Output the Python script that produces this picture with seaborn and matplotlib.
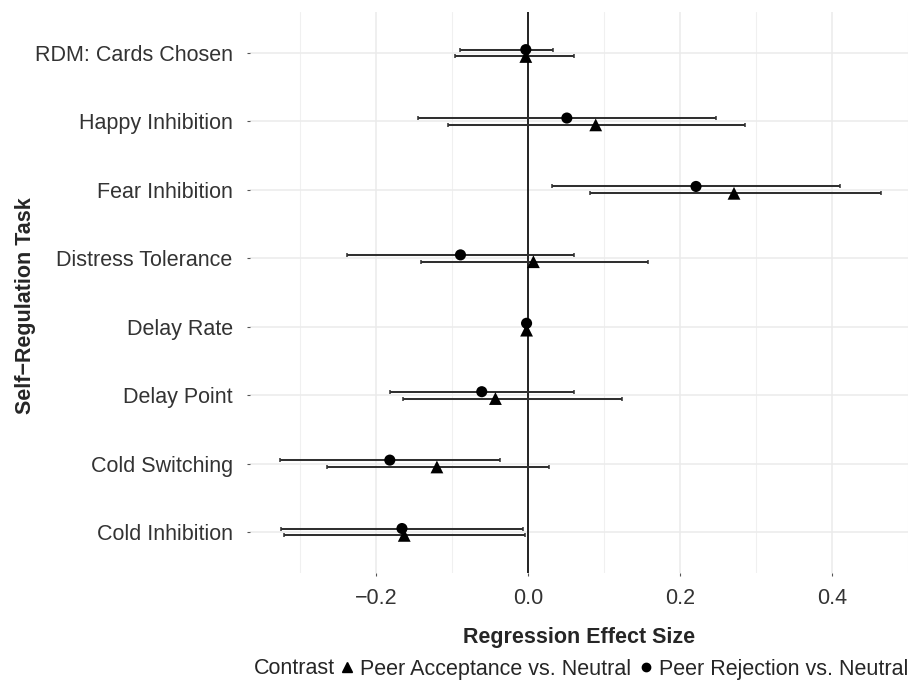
import pandas as pd
import matplotlib
matplotlib.use("Agg")
import matplotlib.pyplot as plt
import numpy as np
import seaborn as sns
from matplotlib.lines import Line2D

tasks = ["RDM: Cards Chosen", "Happy Inhibition", "Fear Inhibition", "Distress Tolerance",
         "Delay Rate", "Delay Point", "Cold Switching", "Cold Inhibition"]

# Peer Acceptance vs. Neutral (triangles)
acc_est = [-0.003, 0.089, 0.271, 0.007, -0.002, -0.043, -0.120, -0.163]
acc_lo = [-0.096, -0.105, 0.082, -0.141, -0.004, -0.164, -0.265, -0.321]
acc_hi = [0.061, 0.285, 0.465, 0.158, 0.000, 0.123, 0.028, -0.004]

# Peer Rejection vs. Neutral (circles)
rej_est = [-0.003, 0.051, 0.221, -0.089, -0.002, -0.061, -0.182, -0.166]
rej_lo = [-0.090, -0.145, 0.031, -0.238, -0.004, -0.182, -0.326, -0.325]
rej_hi = [0.033, 0.247, 0.411, 0.060, 0.000, 0.060, -0.037, -0.007]

contrasts = ["Peer Acceptance vs. Neutral", "Peer Rejection vs. Neutral"]

rows = []
for i, t in enumerate(tasks):
    rows.append(dict(task=t, contrast=contrasts[0], est=acc_est[i], lo=acc_lo[i], hi=acc_hi[i],
                     y=len(tasks) - 1 - i - 0.05))
    rows.append(dict(task=t, contrast=contrasts[1], est=rej_est[i], lo=rej_lo[i], hi=rej_hi[i],
                     y=len(tasks) - 1 - i + 0.05))
df = pd.DataFrame(rows)

sns.set_theme(style="whitegrid")
plt.rcParams['font.family'] = ['Liberation Sans', 'DejaVu Sans']
fs = 15.5

fig = plt.figure(figsize=(9.1, 6.84), dpi=100)
ax = fig.add_axes([250 / 910, 1 - 573 / 684, 658 / 910, 561 / 684])

ax.axvline(0, color="black", lw=1.2, zorder=2)

for c in contrasts:
    d = df[df.contrast == c]
    ax.errorbar(d.est, d.y, xerr=[d.est - d.lo, d.hi - d.est], fmt="none",
                ecolor="#303030", elinewidth=1.45, capsize=1.6, capthick=1.1, zorder=3)

sns.scatterplot(data=df, x="est", y="y", style="contrast", size="contrast",
                markers={contrasts[0]: "^", contrasts[1]: "o"},
                sizes={contrasts[0]: 85, contrasts[1]: 64},
                color="black", edgecolor="black", linewidth=0, legend=False, ax=ax, zorder=4)

ax.set_xlim(-0.366, 0.497)
ax.set_ylim(-0.6, len(tasks) - 0.4)
ax.set_yticks(range(len(tasks)))
ax.set_yticklabels(tasks[::-1])
ax.set_xticks([-0.2, 0.0, 0.2, 0.4])
ax.set_xticklabels(["\u22120.2", "0.0", "0.2", "0.4"])
ax.set_xticks([-0.3, -0.1, 0.1, 0.3, 0.5], minor=True)

ax.grid(True, which="major", color="#EBEBEB", lw=1.1)
ax.grid(True, which="minor", axis="x", color="#F0F0F0", lw=0.8)
ax.set_axisbelow(True)
for s in ax.spines.values():
    s.set_visible(False)

ax.tick_params(axis="both", which="major", labelsize=fs, labelcolor="#333333",
               length=2.5, width=0.8, color="#555555", left=True, bottom=True)
ax.tick_params(axis="x", which="major", pad=8)
ax.tick_params(axis="y", which="major", pad=10)
ax.tick_params(axis="x", which="minor", length=0)

ax.set_xlabel("Regression Effect Size", fontsize=fs, fontweight="bold")
ax.set_ylabel("Self\u2212Regulation Task", fontsize=fs, fontweight="bold")
ax.xaxis.set_label_coords(0.5, (573 - 627) / 561)
ax.yaxis.set_label_coords((36 - 250) / 658, 0.477)

handles = [Line2D([], [], marker="^", color="black", ls="none", markersize=6.5),
           Line2D([], [], marker="o", color="black", ls="none", markersize=6)]
leg = fig.legend(handles, contrasts, loc="center right", bbox_to_anchor=(908 / 910, 1 - 669 / 684),
                 ncol=2, frameon=False, fontsize=fs, handlelength=0.6, handletextpad=0.3,
                 columnspacing=0.4, borderaxespad=0, borderpad=0)
fig.canvas.draw()
bb = leg.get_window_extent()
fig.text((bb.x0 - 5) / 910, 1 - 669 / 684, "Contrast", fontsize=fs, va="center", ha="right")

fig.savefig("out.png", dpi=100)
